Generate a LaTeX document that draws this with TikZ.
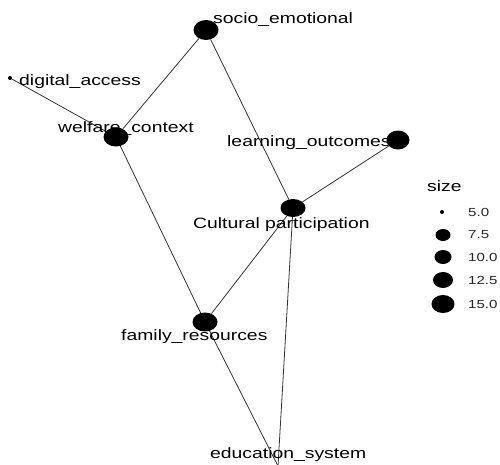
\documentclass[tikz,border=0pt]{standalone}
\usepackage{fontspec}
\usepackage{graphicx}
\setmainfont{Liberation Sans}
\usetikzlibrary{shapes.geometric,backgrounds}
\newcommand{\hs}[1]{\scalebox{1.29}[1]{#1}}
\tikzset{
  dotnode/.style={ellipse,fill=black,inner sep=0pt,minimum width=#1},
  lbl/.style={anchor=base west,inner sep=0pt,font=\fontsize{15}{18}\selectfont},
  legnum/.style={anchor=west,inner sep=0pt,font=\fontsize{11.7}{14}\selectfont,text=black!85},
  edge/.style={draw=black!80,line width=0.8pt}
}
\begin{document}
\begin{tikzpicture}[x=1pt,y=-1pt]
\useasboundingbox (0,0) rectangle (500,464);
\clip (0,0) rectangle (500,464);
% nodes
\node[dotnode=25pt,minimum height=20pt] (se) at (206,30) {};
\node[dotnode=4pt,minimum height=4pt] (da) at (10,78) {};
\node[dotnode=25pt,minimum height=19pt] (wc) at (116,137) {};
\node[dotnode=23pt,minimum height=19pt] (lo) at (398,140) {};
\node[dotnode=25pt,minimum height=18pt] (cp) at (293,208) {};
\node[dotnode=25pt,minimum height=19pt] (fr) at (205,322) {};
\coordinate (es) at (278,466);
% edges
\begin{scope}[on background layer]
\draw[edge] (da) -- (wc);
\draw[edge] (wc) -- (se);
\draw[edge] (se) -- (cp);
\draw[edge] (wc) -- (fr);
\draw[edge] (lo) -- (cp);
\draw[edge] (cp) -- (fr);
\draw[edge] (cp) -- (es);
\draw[edge] (fr) -- (es);
\end{scope}
% labels
\node[lbl] (lse) at (213,23) {\hs{socio\_emotional}};
\node[lbl] (lda) at (19,85) {\hs{digital\_access}};
\node[lbl] (lwc) at (58,132) {\hs{welfare\_context}};
\node[lbl] (llo) at (227,146) {\hs{learning\_outcomes}};
\node[lbl] (lcp) at (193,228) {\hs{Cultural participation}};
\node[lbl] (lfr) at (121,340) {\hs{family\_resources}};
\node[lbl] (les) at (210,458) {\hs{education\_system}};
% legend
\node[lbl] (ltitle) at (427,191) {\hs{size}};
\node[dotnode=4pt,minimum height=4pt] (k1) at (442,212) {};
\node[dotnode=15pt,minimum height=12pt] (k2) at (443,235) {};
\node[dotnode=17pt,minimum height=14pt] (k3) at (443,257) {};
\node[dotnode=20pt,minimum height=16pt] (k4) at (443,280) {};
\node[dotnode=23pt,minimum height=18pt] (k5) at (443,304) {};
\node[legnum] (t1) at (468,212) {\hs{5.0}};
\node[legnum] (t2) at (468,235) {\hs{7.5}};
\node[legnum] (t3) at (468,257) {\hs{10.0}};
\node[legnum] (t4) at (468,280) {\hs{12.5}};
\node[legnum] (t5) at (468,304) {\hs{15.0}};
\end{tikzpicture}
\end{document}
